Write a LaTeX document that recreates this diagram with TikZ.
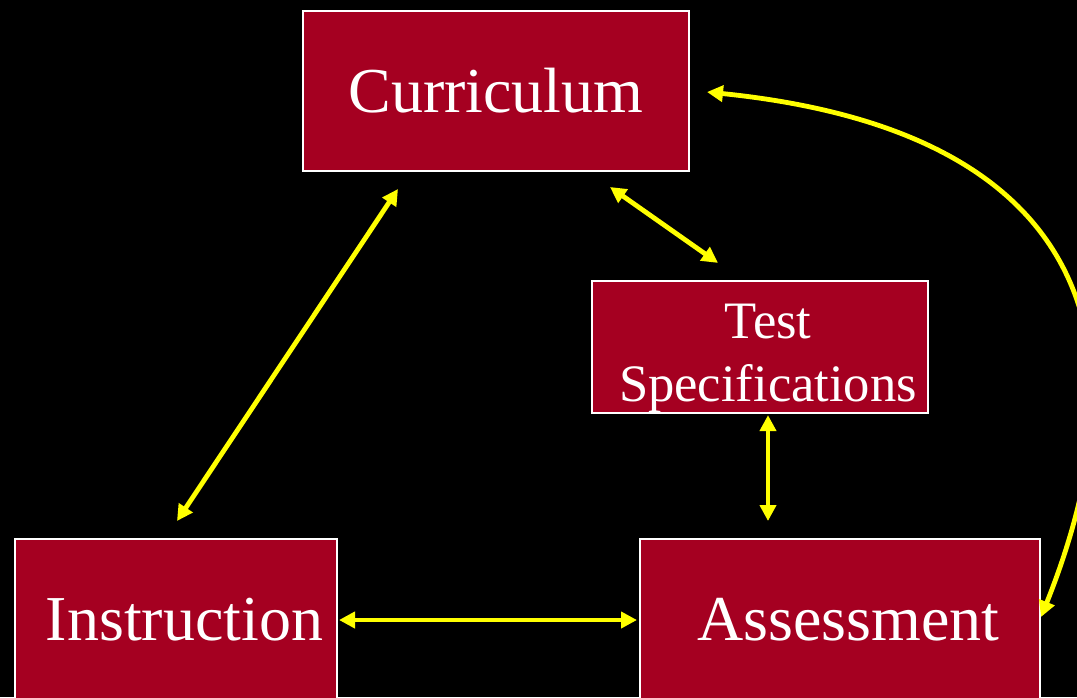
\documentclass[tikz,border=0pt]{standalone}
\usepackage{fontspec}
\setmainfont{Liberation Serif}
\usetikzlibrary{arrows.meta, calc}
\definecolor{boxRed}{RGB}{165,0,33}
\definecolor{linkYellow}{RGB}{255,255,0}

\begin{document}
\begin{tikzpicture}[x=0.5pt, y=-0.5pt,
    box/.style={draw=white, line width=1pt, fill=boxRed, text=white, inner sep=0pt,
      font=\fontsize{32}{38}\selectfont},
    link/.style={draw=linkYellow, line width=2.4pt,
      {Triangle[length=8pt,width=8pt]}-{Triangle[length=8pt,width=8pt]}}]
  % black slide, cut to its edges
  \path[use as bounding box, fill=black] (0,0) rectangle (1077,697);
  \clip (0,0) rectangle (1077,697);

  \node[box, minimum width=193pt, minimum height=80pt] (curr) at (496,91) {Curriculum};
  \node[box, minimum width=168pt, minimum height=64pt, align=center,
    font=\fontsize{26.3}{31.5}\selectfont] (tspec) at (760,347)
    {\rule{0pt}{29pt}\hspace*{8pt}Test\\\hspace*{8pt}Specifications};
  \node[box, minimum width=161pt, minimum height=81pt] (inst) at (176,620) {\hspace*{8.5pt}Instruction};
  \node[box, minimum width=200pt, minimum height=81pt] (assess) at (840,620) {\hspace*{8.5pt}Assessment};

  % two-way links
  \draw[link] ($(curr.south)+(-98,17)$) -- ($(inst.north)+(1,-17)$);
  \draw[link] ($(curr.south)+(114,15)$) -- ($(tspec.north)+(-42,-17)$);
  \draw[link] ($(tspec.south)+(8,1)$) -- ($(assess.north)+(-72,-17)$);
  \draw[link] ($(inst.east)+(1,0)$) -- ($(assess.west)+(-2,0)$);
  \draw[link] ($(curr.east)+(17,1)$) .. controls (1080,130) and (1155,332) .. ($(assess.east)+(0,-3)$);
\end{tikzpicture}
\end{document}
